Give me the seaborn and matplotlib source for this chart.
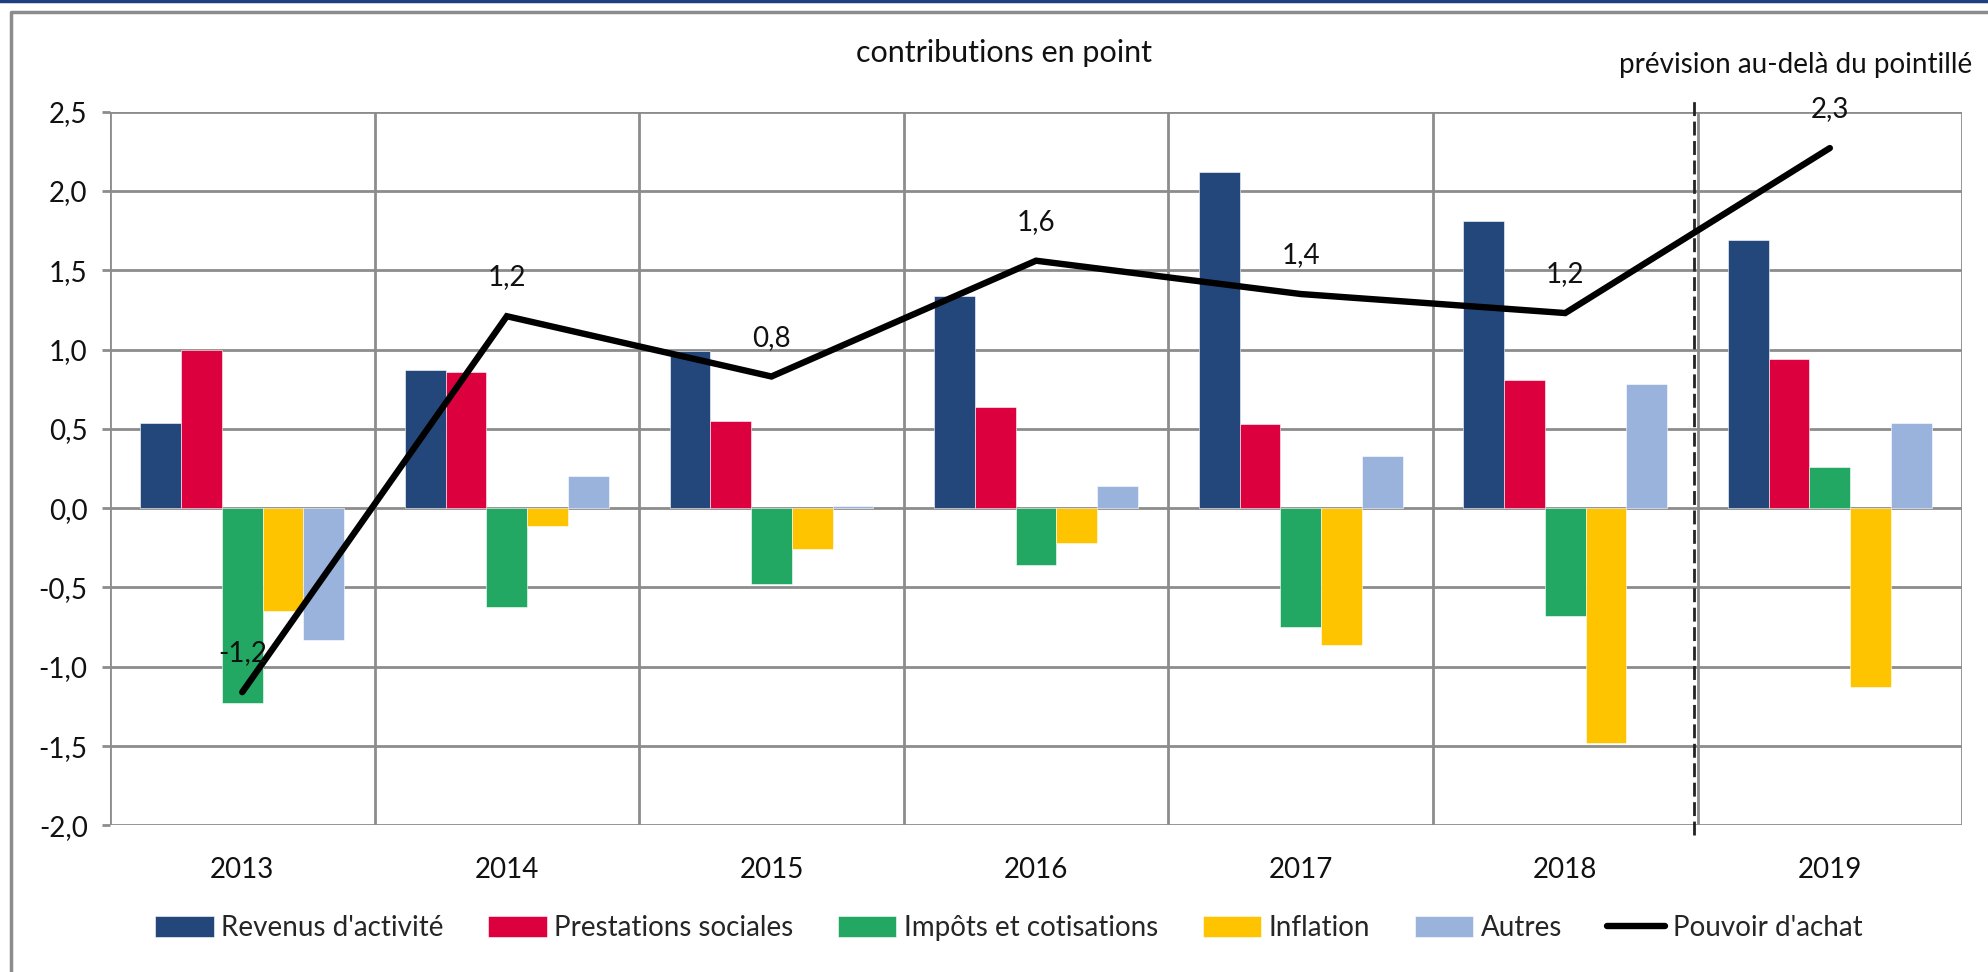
import numpy as np
import pandas as pd
import matplotlib
matplotlib.use("Agg")
import matplotlib.pyplot as plt
from matplotlib.lines import Line2D
import seaborn as sns

# data (contributions en point)
years = ["2013", "2014", "2015", "2016", "2017", "2018", "2019"]
revenus = [0.54, 0.87, 0.99, 1.34, 2.12, 1.81, 1.69]
prestations = [1.00, 0.86, 0.55, 0.64, 0.53, 0.81, 0.94]
impots = [-1.23, -0.62, -0.48, -0.36, -0.75, -0.68, 0.26]
inflation = [-0.65, -0.11, -0.26, -0.22, -0.86, -1.48, -1.13]
autres = [-0.83, 0.20, 0.015, 0.14, 0.33, 0.78, 0.54]
pouvoir = [-1.16, 1.21, 0.83, 1.56, 1.35, 1.23, 2.27]
pouvoir_labels = ["-1,2", "1,2", "0,8", "1,6", "1,4", "1,2", "2,3"]

series_names = ["Revenus d'activité", "Prestations sociales", "Impôts et cotisations",
                "Inflation", "Autres"]
colors = ["#23477A", "#DC003E", "#22A862", "#FFC400", "#9AB3DC"]

# long table for seaborn
df = pd.DataFrame({
    "annee": years * 5,
    "serie": np.repeat(series_names, len(years)),
    "valeur": revenus + prestations + impots + inflation + autres,
})

sns.set_theme(style="white")
plt.rcParams["font.family"] = ["Lato", "DejaVu Sans"]
txt_c = "#111111"
fs = 20

fig = plt.figure(figsize=(19.88, 9.72), dpi=100)
ax = fig.add_axes([0.0553, 0.1508, 0.9317, 0.7344])

sns.barplot(data=df, x="annee", y="valeur", hue="serie", order=years,
            hue_order=series_names, palette=colors, width=0.77,
            saturation=1, errorbar=None, ax=ax, legend=True, zorder=3)
for p in ax.patches:
    p.set_edgecolor("white")
    p.set_linewidth(0.4)

sns.lineplot(x=np.arange(len(years)), y=pouvoir, color="black", linewidth=4.6,
             ax=ax, label="Pouvoir d'achat", zorder=5, solid_capstyle="round",
             solid_joinstyle="miter")

for i, (v, lab) in enumerate(zip(pouvoir, pouvoir_labels)):
    ax.annotate(lab, (i, v), xytext=(0, 28), textcoords="offset points",
                ha="center", va="center", fontsize=fs, color=txt_c, zorder=6)

ax.set_xlim(-0.5, len(years) - 0.5)
ax.set_ylim(-2.0, 2.5)
yt = np.arange(-2.0, 2.51, 0.5)
ax.set_yticks(yt)
ax.set_yticklabels([f"{t:.1f}".replace(".", ",") for t in yt])
ax.set_xticks(np.arange(len(years)))
ax.set_xticklabels(years)
ax.set_xlabel("")
ax.set_ylabel("")

grid_c = "#8C8C8C"
for t in yt:
    ax.axhline(t, color=grid_c, linewidth=2, zorder=1)
for b in np.arange(-0.5, len(years), 1.0):
    ax.axvline(b, color=grid_c, linewidth=2, zorder=1)
for s in ax.spines.values():
    s.set_visible(False)

ax.tick_params(axis="y", which="both", left=True, length=6, width=2, color=grid_c,
               pad=10, labelsize=fs, labelcolor=txt_c)
ax.tick_params(axis="x", bottom=False, pad=17, labelsize=fs, labelcolor=txt_c)

# forecast separator
sep = len(years) - 1.5
ax.plot([sep - 0.012, sep - 0.012], [-2.06, 2.57], color="#222222", linewidth=2,
        linestyle=(0, (5, 2)), clip_on=False, zorder=4)

handles, labels = ax.get_legend_handles_labels()
ax.legend(handles, labels, loc="center", bbox_to_anchor=(0.5075, 0.045),
          bbox_transform=fig.transFigure, ncol=6, frameon=False, fontsize=fs,
          handlelength=2.1, handleheight=0.8, handletextpad=0.28,
          columnspacing=1.6)

fig.text(0.505, 0.945, "contributions en point", ha="center", va="center",
         fontsize=22, color=txt_c)
fig.text(0.992, 0.933, "prévision au-delà du pointillé", ha="right", va="center",
         fontsize=fs, color=txt_c)

# chart frame
fig.add_artist(Line2D([0, 1], [0.999, 0.999], color="#1F3F7F", linewidth=2.5,
                      transform=fig.transFigure))
fig.add_artist(Line2D([0.0057, 0.0057, 1.0], [0.0, 0.988, 0.988], color="#8C8C8C",
                      linewidth=2.5, transform=fig.transFigure))

fig.savefig("out.png", dpi=100)
